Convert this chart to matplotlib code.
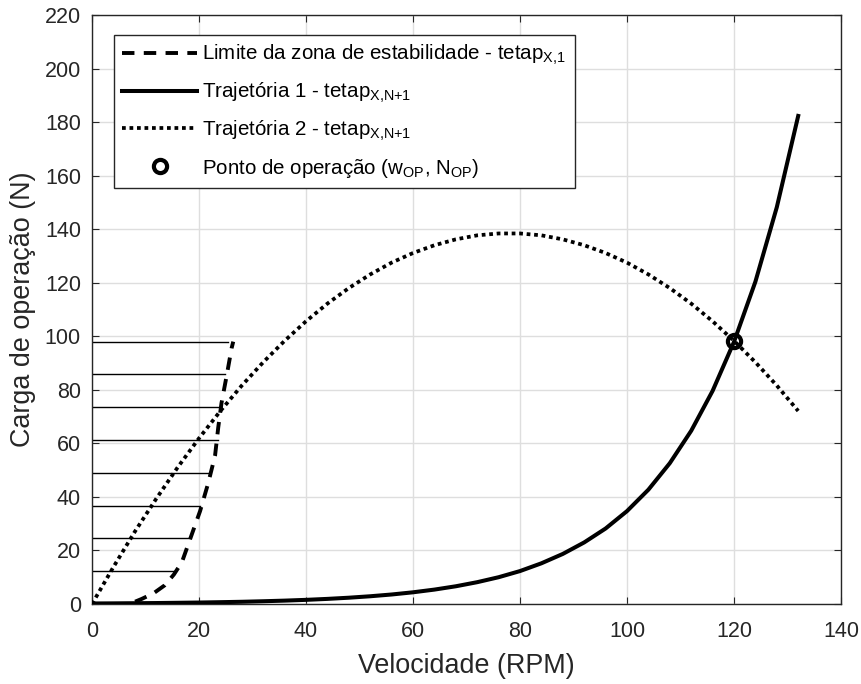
import matplotlib
matplotlib.use("Agg")
import matplotlib.pyplot as plt

plt.rcParams['font.family'] = ['Liberation Sans', 'DejaVu Sans']
plt.rcParams['mathtext.fontset'] = 'custom'
plt.rcParams['mathtext.rm'] = 'Liberation Sans'
plt.rcParams['mathtext.it'] = 'Liberation Sans'
plt.rcParams['mathtext.bf'] = 'Liberation Sans'

# ---- data ----
# Trajectory 1 (solid)
traj1_x = [0, 4, 8, 12, 16, 20, 24, 28, 32, 36, 40, 44, 48, 52, 56, 60, 64, 68,
           72, 76, 80, 84, 88, 92, 96, 100, 104, 108, 112, 116, 120, 124, 128, 132]
traj1_y = [0.20, 0.24, 0.30, 0.36, 0.45, 0.55, 0.68, 0.83, 1.03, 1.26, 1.55, 1.91,
           2.35, 2.89, 3.55, 4.37, 5.38, 6.62, 8.15, 10.0, 12.3, 15.2, 18.7, 23.0,
           28.2, 34.7, 42.7, 52.6, 64.7, 79.6, 97.9, 120.4, 148.2, 182.3]

# Trajectory 2 (dotted)
traj2_x = [0, 4, 8, 12, 16, 20, 24, 28, 32, 36, 40, 44, 48, 52, 56, 60, 64, 68,
           72, 76, 80, 84, 88, 92, 96, 100, 104, 108, 112, 116, 120, 124, 128, 132]
traj2_y = [0, 13.8, 27.0, 39.3, 51.0, 61.9, 72.1, 81.6, 90.3, 98.3, 105.6, 112.2,
           118.0, 123.1, 127.5, 131.1, 134.0, 136.2, 137.7, 138.4, 138.4, 137.7,
           136.2, 134.0, 131.1, 127.5, 123.1, 118.0, 112.2, 105.6, 98.3, 90.3,
           81.6, 72.1]

# Stability zone limit (dashed)
limit_x = [0, 7.0, 9.3, 11.5, 13.6, 15.3, 16.8, 18.6, 20.2, 21.7, 23.0, 23.6, 24.2,
           25.2, 26.1, 26.4]
limit_y = [0, 0, 1.9, 4.0, 7.0, 11.0, 15.6, 25.7, 34.7, 45.0, 55.4, 66.0, 75.0,
           85.6, 95.6, 98.0]

# Horizontal hatch lines inside the stability zone
hatch_y = [12.25, 24.5, 36.75, 49.0, 61.25, 73.5, 85.75, 98.0]
hatch_x_end = [15.6, 18.3, 20.2, 22.1, 23.5, 24.2, 24.9, 25.5]

# Operating point
op_x = [120]
op_y = [98.3]

x_ticks = [0, 20, 40, 60, 80, 100, 120, 140]
y_ticks = [0, 20, 40, 60, 80, 100, 120, 140, 160, 180, 200, 220]

labels = [
    r'Limite da zona de estabilidade - tetap$_{\mathrm{X{,}1}}$',
    r'Trajetória 1 - tetap$_{\mathrm{X{,}N{+}1}}$',
    r'Trajetória 2 - tetap$_{\mathrm{X{,}N{+}1}}$',
    r'Ponto de operação (w$_{\mathrm{OP}}$, N$_{\mathrm{OP}}$)',
]

fig = plt.figure(figsize=(8.61, 6.84), dpi=100)
ax = fig.add_axes([92/861, 80/684, 749/861, 589/684])

for yh, xe in zip(hatch_y, hatch_x_end):
    ax.plot([0, xe], [yh, yh], color='black', lw=1.0, zorder=2)

l1, = ax.plot(limit_x, limit_y, color='black', lw=2.8, linestyle=(0, (3.2, 2.4)),
              zorder=3, label=labels[0])
l2, = ax.plot(traj1_x, traj1_y, color='black', lw=2.9, linestyle='-', zorder=3,
              label=labels[1])
l3, = ax.plot(traj2_x, traj2_y, color='black', lw=2.7, linestyle=(0, (1, 1)),
              zorder=3, label=labels[2])
l4, = ax.plot(op_x, op_y, linestyle='none', marker='o', markersize=9.5,
              markerfacecolor='none', markeredgecolor='black', markeredgewidth=3.0,
              zorder=4, label=labels[3])

ax.set_xlim(0, 140)
ax.set_ylim(0, 220)
ax.set_xticks(x_ticks)
ax.set_yticks(y_ticks)
ax.grid(True, color='#dedede', lw=1.0)
ax.set_axisbelow(True)
ax.tick_params(direction='in', length=5, width=0.8, top=True, right=True,
               labelsize=15.5, colors='#262626', pad=8)
ax.tick_params(axis='x', pad=12)
for s in ax.spines.values():
    s.set_color('#262626')
    s.set_linewidth(1.0)

ax.set_xlabel('Velocidade (RPM)', fontsize=19.4, color='#262626', labelpad=8)
ax.set_ylabel('Carga de operação (N)', fontsize=19.4, color='#262626', labelpad=6)

leg = ax.legend(handles=[l1, l2, l3, l4], loc='upper left',
                bbox_to_anchor=(0.0294, 0.966), borderaxespad=0,
                fontsize=14.8, handlelength=3.65, handletextpad=0.25,
                labelspacing=0.66, borderpad=0.4, fancybox=False, framealpha=1,
                edgecolor='#262626')
leg.get_frame().set_linewidth(1.0)

fig.savefig('out.png', dpi=100)
